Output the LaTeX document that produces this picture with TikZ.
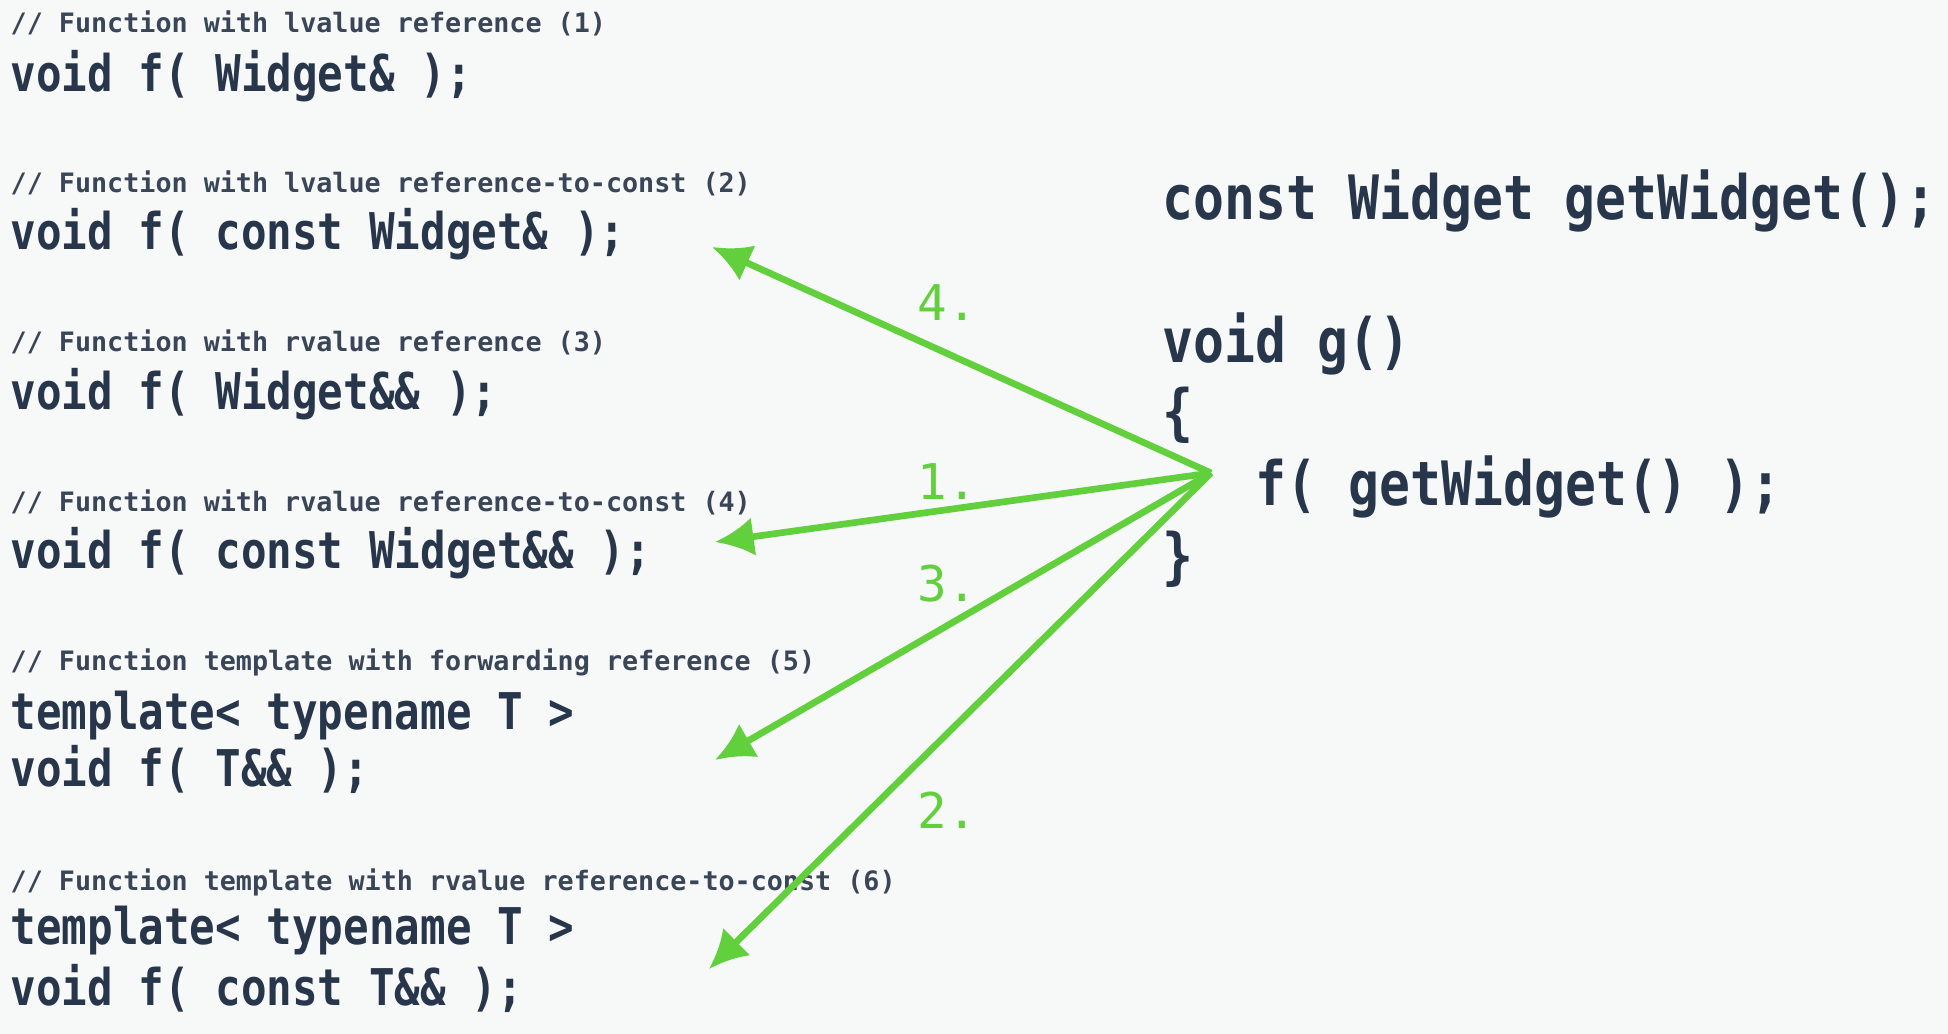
\documentclass[tikz,border=0pt]{standalone}
\usepackage{fontspec}
\usetikzlibrary{arrows.meta}

\newfontfamily\codefont{DejaVu Sans Mono}[FakeStretch=0.84]
\newfontfamily\notefont{DejaVu Sans Mono}

\definecolor{paper}{HTML}{F7F8F8}
\definecolor{ink}{HTML}{27364A}
\definecolor{note}{HTML}{3A4658}
\definecolor{arrowgreen}{HTML}{62D03C}

\tikzset{
	code/.style = {anchor = base west, inner sep = 0pt, text = ink,
		font = \codefont\bfseries\fontsize{14.4}{16}\selectfont},
	bigcode/.style = {code, font = \codefont\bfseries\fontsize{17.4}{20}\selectfont},
	comment/.style = {anchor = base west, inner sep = 0pt, text = note,
		font = \notefont\bfseries\fontsize{7.6}{9}\selectfont},
	rank/.style = {inner sep = 0pt, text = arrowgreen,
		font = \notefont\fontsize{14}{16}\selectfont},
	pick/.style = {draw = arrowgreen, line width = 1.9pt,
		-{Latex[length = 11pt, width = 11pt]}}
}

\begin{document}

\begin{tikzpicture}[x = 0.01cm, y = -0.01cm]

	\fill [paper] (0, 0) rectangle (1948, 1034);
	\useasboundingbox (0, 0) rectangle (1948, 1034);

	% Overloads of f
	
	\node [comment] (c1) at (10, 33) {// Function with lvalue reference (1)};
	\node [code] (f1) at (10, 92) {void f( Widget\& );};
	
	\node [comment] (c2) at (10, 193) {// Function with lvalue reference-to-const (2)};
	\node [code] (f2) at (10, 250) {void f( const Widget\& );};
	
	\node [comment] (c3) at (10, 352) {// Function with rvalue reference (3)};
	\node [code] (f3) at (10, 410) {void f( Widget\&\& );};
	
	\node [comment] (c4) at (10, 512) {// Function with rvalue reference-to-const (4)};
	\node [code] (f4) at (10, 569) {void f( const Widget\&\& );};
	
	\node [comment] (c5) at (10, 671) {// Function template with forwarding reference (5)};
	\node [code] (t5) at (10, 730) {template< typename T >};
	\node [code] (f5) at (10, 787) {void f( T\&\& );};
	
	\node [comment] (c6) at (10, 890) {// Function template with rvalue reference-to-const (6)};
	\node [code] (t6) at (10, 945) {template< typename T >};
	\node [code] (f6) at (10, 1005) {void f( const T\&\& );};

	% Caller
	
	\node [bigcode] (sig) at (1162, 220) {const Widget getWidget();};
	\node [bigcode] (g) at (1162, 363) {void g()};
	\node [bigcode] (open) at (1162, 434) {\{};
	\node [bigcode] (call) at (1255, 506) {f( getWidget() );};
	\node [bigcode] (close) at (1162, 578) {\}};

	% Ranking arrows
	
	\coordinate (hub) at (1211, 473);
	\coordinate (to2) at (712, 247);
	\coordinate (to4) at (715, 542);
	\coordinate (to5) at (715, 760);
	\coordinate (to6) at (709, 969);
	
	\draw [pick] (hub) -- (to2);
	\draw [pick] (hub) -- (to4);
	\draw [pick] (hub) -- (to5);
	\draw [pick] (hub) -- (to6);
	
	\node [rank] (r4) at (947, 303) {4.};
	\node [rank] (r1) at (947, 482) {1.};
	\node [rank] (r3) at (947, 584) {3.};
	\node [rank] (r2) at (947, 810) {2.};

\end{tikzpicture}

\end{document}
